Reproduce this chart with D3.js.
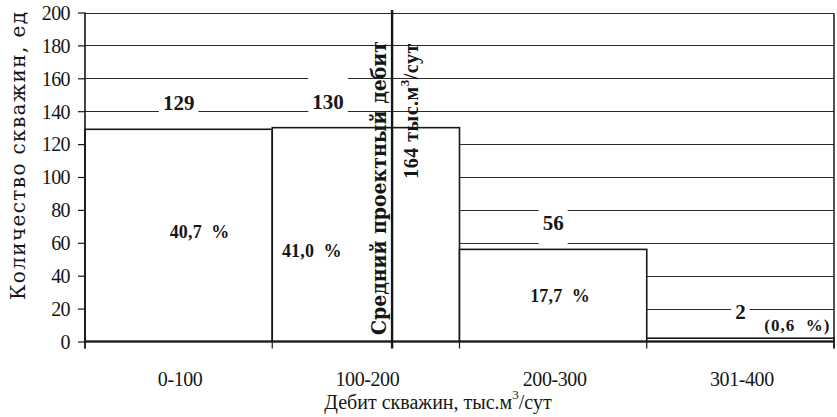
<!DOCTYPE html>
<html>
<head>
<meta charset="utf-8">
<script src="https://cdn.jsdelivr.net/npm/d3@7"></script>
<style>
  html, body { margin: 0; padding: 0; background: #fff; }
  svg { display: block; }
</style>
</head>
<body>
<svg id="chart" width="837" height="417"></svg>
<script>
// Well flow-rate distribution
const categories = ["0-100", "100-200", "200-300", "301-400"];
const wellCounts = [129, 130, 56, 2];
const shareLabels = ["40,7 %", "41,0 %", "17,7 %", "(0,6 %)"];
const yTickValues = [0, 20, 40, 60, 80, 100, 120, 140, 160, 180, 200];
const rateDomain = [0, 400];
const meanRate = 164;

// Share-label placement relative to each bar's centre (layout only)
const shareOffsets = [
  { dx: 21, dy: 3, size: 18 },
  { dx: -54, dy: 22, size: 18 },
  { dx: 7, dy: 6.5, size: 18 },
  { dx: 57, dy: 0, size: 17, baseline: 331 }
];

const svg = d3.select("#chart");
const plotL = 85, plotR = 834, plotT = 12.5, plotB = 341.5;
const serif = "Liberation Serif, Times New Roman, serif";
const slab = "DejaVu Serif, serif";
const ink = "#161616";

const x = d3.scaleBand().domain(categories).range([plotL, plotR]).padding(0);
const xRate = d3.scaleLinear().domain(rateDomain).range([plotL, plotR]);
const y = d3.scaleLinear().domain([0, 200]).range([plotB, plotT]);
const crisp = v => Math.round(v) + 0.5;

// Horizontal grid
svg.append("g").selectAll("line")
  .data(yTickValues.filter(d => d > 0))
  .join("line")
  .attr("x1", plotL).attr("x2", plotR)
  .attr("y1", d => crisp(y(d))).attr("y2", d => crisp(y(d)))
  .attr("stroke", "#2a2a2a").attr("stroke-width", 1);

// Right frame edge
svg.append("line")
  .attr("x1", plotR).attr("x2", plotR)
  .attr("y1", crisp(y(200))).attr("y2", plotB + 7)
  .attr("stroke", ink).attr("stroke-width", 1.5);

// Bars
svg.append("g").selectAll("rect")
  .data(categories)
  .join("rect")
  .attr("x", d => x(d))
  .attr("y", (d, i) => y(wellCounts[i]))
  .attr("width", x.bandwidth())
  .attr("height", (d, i) => y(0) - y(wellCounts[i]))
  .attr("fill", "#fff")
  .attr("stroke", ink)
  .attr("stroke-width", 1.6);

const meanX = xRate(meanRate);

// Count labels above the bars, on a white backing that cuts the grid
const countG = svg.append("g");
categories.forEach((c, i) => {
  const cx = x(c) + x.bandwidth() / 2;
  const holdsMean = meanX > x(c) && meanX < x(c) + x.bandwidth();
  const lx = holdsMean ? meanX - 64 : cx;
  const base = y(wellCounts[i]) - 19;
  const bg = countG.append("rect").attr("fill", "#fff");
  const t = countG.append("text")
    .attr("x", lx).attr("y", base)
    .attr("text-anchor", "middle")
    .attr("font-family", serif).attr("font-weight", "bold")
    .attr("font-size", 21).attr("fill", ink)
    .text(wellCounts[i]);
  const bb = t.node().getBBox();
  bg.attr("x", bb.x - 4).attr("width", bb.width + 8)
    .attr("y", base - 31).attr("height", 45);
});

// Share labels inside the bars
svg.append("g").selectAll("text")
  .data(categories)
  .join("text")
  .attr("x", (d, i) => x(d) + x.bandwidth() / 2 + shareOffsets[i].dx)
  .attr("y", (d, i) => shareOffsets[i].baseline !== undefined
    ? shareOffsets[i].baseline
    : y(wellCounts[i] / 2) + shareOffsets[i].dy)
  .attr("text-anchor", "middle")
  .attr("font-family", serif).attr("font-weight", "bold")
  .attr("font-size", (d, i) => shareOffsets[i].size)
  .attr("letter-spacing", (d, i) => i === 3 ? 1 : 0.2)
  .attr("fill", ink)
  .style("white-space", "pre")
  .text((d, i) => shareLabels[i].replace(" ", "  "));

// Mean design flow-rate marker
svg.append("line")
  .attr("x1", meanX).attr("x2", meanX)
  .attr("y1", 10).attr("y2", plotB + 7)
  .attr("stroke", ink).attr("stroke-width", 2.4);

svg.append("text")
  .attr("transform", `translate(${meanX - 6},188) rotate(-90)`)
  .attr("text-anchor", "middle")
  .attr("font-family", slab).attr("font-weight", "bold")
  .attr("font-stretch", "condensed")
  .attr("font-size", 21).attr("fill", ink)
  .attr("textLength", 294).attr("lengthAdjust", "spacing")
  .text("Средний проектный дебит");

const meanVal = svg.append("text")
  .attr("transform", `translate(${meanX + 26},111) rotate(-90)`)
  .attr("text-anchor", "middle")
  .attr("font-family", serif).attr("font-weight", "bold")
  .attr("font-size", 20).attr("letter-spacing", 0.5).attr("fill", ink);
meanVal.append("tspan").text(meanRate + " тыс.м");
meanVal.append("tspan").attr("dy", -9).attr("font-size", 13).text("3");
meanVal.append("tspan").attr("dy", 9).text("/сут");

// Y axis
const yAxis = svg.append("g")
  .attr("transform", `translate(${plotL},0)`)
  .call(d3.axisLeft(y).tickValues(yTickValues).tickSize(7).tickSizeOuter(0).tickPadding(8));
yAxis.select(".domain").attr("stroke", ink).attr("stroke-width", 1.6)
  .attr("d", `M0,${plotT}V${plotB + 7}`);
yAxis.selectAll(".tick line").attr("stroke", ink).attr("stroke-width", 1.2);
yAxis.selectAll(".tick text")
  .attr("font-family", serif).attr("font-size", 20)
  .attr("fill", ink).attr("letter-spacing", -0.6).attr("dy", "0.34em");

// X axis line and boundary ticks
svg.append("line")
  .attr("x1", plotL).attr("x2", plotR)
  .attr("y1", plotB).attr("y2", plotB)
  .attr("stroke", ink).attr("stroke-width", 1.8);
svg.append("g").selectAll("line")
  .data(categories.map(c => x(c)).concat([plotR]))
  .join("line")
  .attr("x1", d => d).attr("x2", d => d)
  .attr("y1", plotB).attr("y2", plotB + 7)
  .attr("stroke", ink).attr("stroke-width", 1.2);

const xAxis = svg.append("g")
  .attr("transform", `translate(1.5,${plotB})`)
  .call(d3.axisBottom(x).tickSize(0).tickPadding(30));
xAxis.select(".domain").remove();
xAxis.selectAll(".tick text")
  .attr("font-family", serif).attr("font-size", 20)
  .attr("fill", ink).attr("letter-spacing", -0.4);

// Axis titles
const xTitle = svg.append("text")
  .attr("x", 438).attr("y", 409)
  .attr("text-anchor", "middle")
  .attr("font-family", serif).attr("font-size", 20).attr("fill", ink);
xTitle.append("tspan").text("Дебит скважин, тыс.м");
xTitle.append("tspan").attr("dy", -10).attr("font-size", 13).text("3");
xTitle.append("tspan").attr("dy", 10).text("/сут");

svg.append("text")
  .attr("transform", "translate(25,156) rotate(-90)")
  .attr("text-anchor", "middle")
  .attr("font-family", slab)
  .attr("font-size", 20).attr("fill", ink)
  .attr("textLength", 288).attr("lengthAdjust", "spacing")
  .text("Количество скважин, ед");
</script>
</body>
</html>
